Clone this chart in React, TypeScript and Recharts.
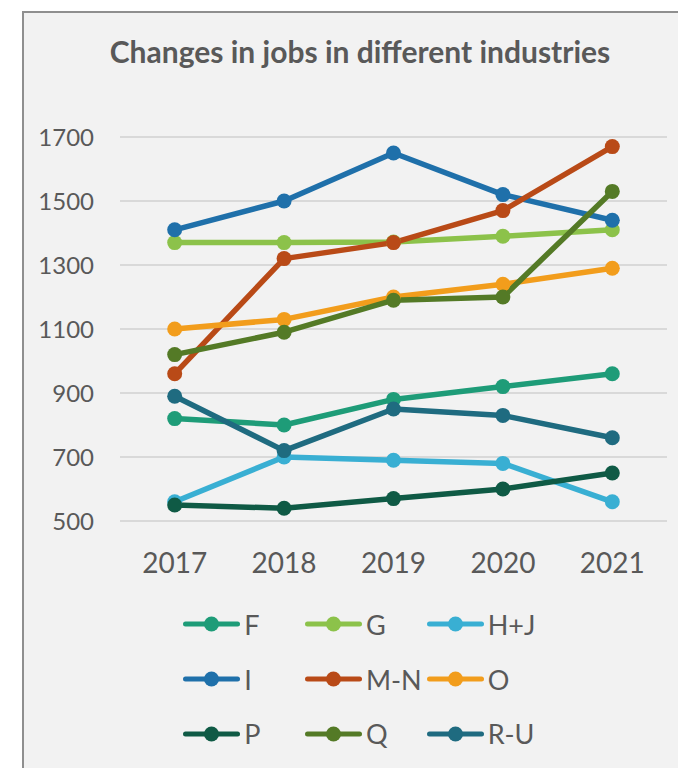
import { CartesianGrid, Legend, Line, LineChart, XAxis, YAxis } from "recharts";

const years = ["2017", "2018", "2019", "2020", "2021"];
const yTicks = [500, 700, 900, 1100, 1300, 1500, 1700];

const seriesNames = ["F", "G", "H+J", "I", "M-N", "O", "P", "Q", "R-U"];
const seriesColors = [
  "#1e9c78",
  "#8cc24a",
  "#39afd3",
  "#1f70aa",
  "#b94a17",
  "#f29d1c",
  "#0f5a45",
  "#547a26",
  "#1f6b80",
];

const fJobs = [820, 800, 880, 920, 960];
const gJobs = [1370, 1370, 1372, 1390, 1410];
const hjJobs = [560, 700, 690, 680, 560];
const iJobs = [1410, 1500, 1650, 1520, 1440];
const mnJobs = [960, 1320, 1370, 1470, 1670];
const oJobs = [1100, 1130, 1200, 1240, 1290];
const pJobs = [550, 540, 570, 600, 650];
const qJobs = [1020, 1090, 1190, 1200, 1530];
const ruJobs = [890, 720, 850, 830, 760];

const seriesValues = [fJobs, gJobs, hjJobs, iJobs, mnJobs, oJobs, pJobs, qJobs, ruJobs];

const rows = years.map((year, i) => {
  const row: Record<string, string | number> = { year };
  seriesNames.forEach((name, s) => {
    row[name] = seriesValues[s][i];
  });
  return row;
});

const FONT = "Lato, 'Open Sans', sans-serif";
const TEXT = "#595959";

function LegendGrid({ payload }: { payload?: any[] }) {
  return (
    <div
      style={{
        display: "grid",
        gridTemplateColumns: "121.7px 121.7px 121.7px",
        gridAutoRows: "54.7px",
        fontFamily: FONT,
      }}
    >
      {(payload ?? []).map((item) => (
        <div key={item.value} style={{ display: "flex", alignItems: "center" }}>
          <svg width={57} height={16} style={{ display: "block" }}>
            <line
              x1={2.5}
              x2={54.5}
              y1={8}
              y2={8}
              stroke={item.color}
              strokeWidth={5}
              strokeLinecap="round"
            />
            <circle cx={28.5} cy={8} r={7.5} fill={item.color} />
          </svg>
          <span style={{ marginLeft: 4, fontSize: 27, color: TEXT, lineHeight: 1 }}>
            {item.value}
          </span>
        </div>
      ))}
    </div>
  );
}

export default function App() {
  return (
    <div
      style={{
        position: "relative",
        width: 678,
        height: 768,
        overflow: "hidden",
        background: "#ffffff",
      }}
    >
      <style>{"body{margin:0}"}</style>
      <div
        style={{
          position: "absolute",
          left: 22,
          top: 11,
          width: 690,
          height: 800,
          background: "#f2f2f2",
          border: "2px solid #8f8f8f",
        }}
      />
      <div
        style={{
          position: "absolute",
          left: 23,
          top: 36,
          width: 674,
          textAlign: "center",
          fontFamily: FONT,
          fontWeight: 700,
          fontSize: 30,
          lineHeight: "30px",
          color: TEXT,
        }}
      >
        Changes in jobs in different industries
      </div>
      <div style={{ position: "absolute", left: 0, top: 0 }}>
        <LineChart
          width={678}
          height={768}
          data={rows}
          margin={{ top: 137, right: 11, bottom: 217, left: 0 }}
        >
          <CartesianGrid vertical={false} stroke="#d9d9d9" strokeWidth={2} />
          <XAxis
            dataKey="year"
            height={30}
            axisLine={false}
            tickLine={false}
            padding={{ left: 54.7, right: 54.7 }}
            tickMargin={26}
            tick={{ fill: TEXT, fontSize: 28, fontFamily: FONT }}
          />
          <YAxis
            domain={[500, 1700]}
            ticks={yTicks}
            width={120}
            axisLine={false}
            tickLine={false}
            tickMargin={20}
            tick={{ fill: TEXT, fontSize: 24, fontFamily: FONT }}
          />
          <Legend
            layout="horizontal"
            verticalAlign="middle"
            align="center"
            wrapperStyle={{ left: 183.3, top: 597, width: 380 }}
            content={(props: any) => <LegendGrid payload={props.payload} />}
          />
          {seriesNames.map((name, s) => (
            <Line
              key={name}
              type="linear"
              dataKey={name}
              name={name}
              stroke={seriesColors[s]}
              strokeWidth={5.5}
              strokeLinejoin="round"
              dot={{ r: 7.5, fill: seriesColors[s], stroke: seriesColors[s], strokeWidth: 0 }}
              activeDot={false}
              isAnimationActive={false}
            />
          ))}
        </LineChart>
      </div>
    </div>
  );
}
